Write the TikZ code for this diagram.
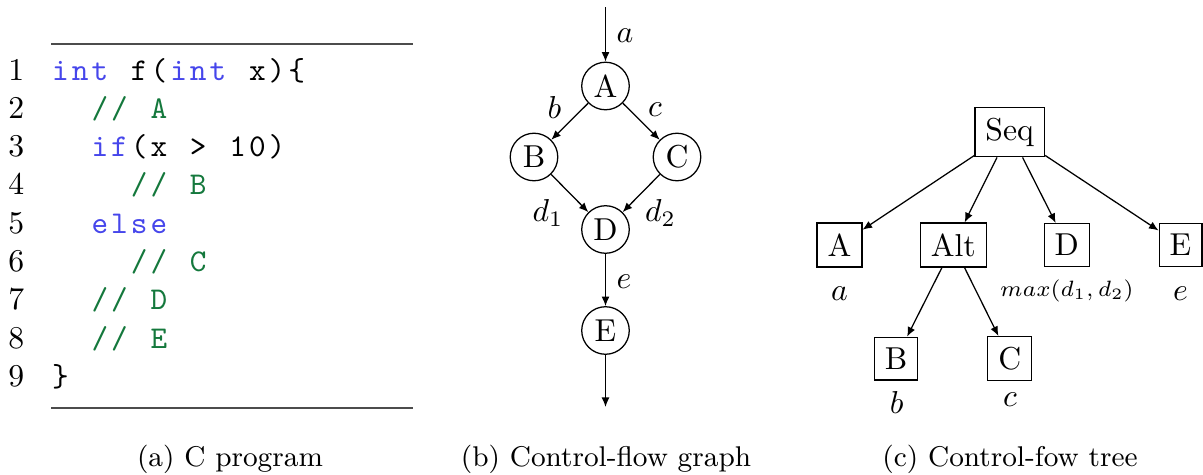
\documentclass[tikz,border=0pt]{standalone}
\usepackage{fontspec}
\usetikzlibrary{arrows.meta}
\definecolor{kwblue}{RGB}{70,70,235}
\definecolor{cmgreen}{RGB}{20,120,60}
\newlength\cw \setlength\cw{6.21pt}
\newcommand\fx[1]{\fxi#1\relax}
\def\fxi#1{\ifx#1\relax\else\makebox[\cw][c]{#1}\expandafter\fxi\fi}
\newcommand\kw[1]{{\color{kwblue}\fx{#1}}}
\newcommand\cm[1]{{\color{cmgreen}\fx{#1}}}
\begin{document}
\begin{tikzpicture}[x=0.31546pt,y=-0.31546pt,
  codeline/.style={anchor=base west,inner sep=0pt,font=\ttfamily},
  lnum/.style={anchor=base,inner sep=0pt},
  cfgnode/.style={circle,draw,minimum size=15pt,inner sep=0pt},
  tnode/.style={rectangle,draw},
  elabel/.style={anchor=base,inner sep=0pt},
  flow/.style={-{Latex[length=3pt,width=2.5pt]}},
  rulel/.style={line width=0.45pt,black!70},
  capt/.style={anchor=base,inner sep=0pt,font=\small}
]
\useasboundingbox (0,0) rectangle (1203,474);

% ---------- (a) C program ----------
\coordinate (r1a) at (51,44);
\coordinate (r1b) at (413,44);
\coordinate (r2a) at (51,408);
\coordinate (r2b) at (413,408);
\draw[rulel] (r1a) -- (r1b);
\draw[rulel] (r2a) -- (r2b);

\foreach \i in {1,...,9}{
  \node[lnum] (ln\i) at (16.3,{80+(\i-1)*38.3}) {\i};
}
\node[codeline] (c1) at (50,80)    {\kw{int}\fx{~f(}\kw{int}\fx{~x)\{}};
\node[codeline] (c2) at (50,118.3) {\fx{~~}\cm{//~A}};
\node[codeline] (c3) at (50,156.6) {\fx{~~}\kw{if}\fx{(x~>~10)}};
\node[codeline] (c4) at (50,194.9) {\fx{~~~~}\cm{//~B}};
\node[codeline] (c5) at (50,233.2) {\fx{~~}\kw{else}};
\node[codeline] (c6) at (50,271.5) {\fx{~~~~}\cm{//~C}};
\node[codeline] (c7) at (50,309.8) {\fx{~~}\cm{//~D}};
\node[codeline] (c8) at (50,348.1) {\fx{~~}\cm{//~E}};
\node[codeline] (c9) at (50,386.4) {\fx{\}}};

\node[capt] (capa) at (230,466) {(a) C program};

% ---------- (b) Control-flow graph ----------
\node[cfgnode] (A) at (605.5,86) {A};
\node[cfgnode] (B) at (534,157) {B};
\node[cfgnode] (C) at (677,157) {C};
\node[cfgnode] (D) at (605.5,229.5) {D};
\node[cfgnode] (E) at (605.5,330.5) {E};
\coordinate (in) at (605.5,7);
\coordinate (out) at (605.5,407);
\draw[flow] (in) -- (A);
\draw[flow] (A) -- (B);
\draw[flow] (A) -- (C);
\draw[flow] (B) -- (D);
\draw[flow] (C) -- (D);
\draw[flow] (D) -- (E);
\draw[flow] (E) -- (out);
\node[elabel] (la) at (625,43) {$a$};
\node[elabel] (lb) at (554.5,118) {$b$};
\node[elabel] (lc) at (655,116.7) {$c$};
\node[elabel] (ld1) at (548,221.7) {$d_1$};
\node[elabel] (ld2) at (660.5,221.7) {$d_2$};
\node[elabel] (le) at (624,288.3) {$e$};

\node[capt] (capb) at (606,466) {(b) Control-flow graph};

% ---------- (c) Control-flow tree ----------
\node[tnode] (tSeq) at (1009.7,132) {Seq};
\node[tnode] (tA) at (839.5,245) {A};
\node[tnode] (tAlt) at (953.3,245) {Alt};
\node[tnode] (tD) at (1066.8,245) {D};
\node[tnode] (tE) at (1180.5,245) {E};
\node[tnode] (tB) at (896,358.7) {B};
\node[tnode] (tC) at (1009.7,358.7) {C};
\draw[flow] (tSeq) -- (tA);
\draw[flow] (tSeq) -- (tAlt);
\draw[flow] (tSeq) -- (tD);
\draw[flow] (tSeq) -- (tE);
\draw[flow] (tAlt) -- (tB);
\draw[flow] (tAlt) -- (tC);
\node[elabel] (ta) at (839.5,300) {$a$};
\node[elabel] (tmax) at (1066.8,296) {\scriptsize$max(d_1,d_2)$};
\node[elabel] (te) at (1180.5,300) {$e$};
\node[elabel] (tb) at (896.7,413) {$b$};
\node[elabel] (tc) at (1010,406) {$c$};

\node[capt] (capc) at (1010,466) {(c) Control-fow tree};
\end{tikzpicture}
\end{document}
